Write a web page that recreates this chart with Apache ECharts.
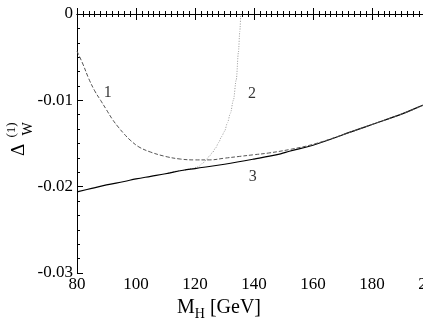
<!DOCTYPE html>
<html>
<head>
<meta charset="utf-8">
<script src="https://cdn.jsdelivr.net/npm/echarts@6/dist/echarts.min.js"></script>
<style>
html, body { margin: 0; padding: 0; background: #fff; }
#main { width: 423px; height: 327px; }
</style>
</head>
<body>
<div id="main"></div>
<script>
// curve 1 (dashed)
const mass1 = [80, 82, 84, 86, 88, 90, 92, 94, 96, 98, 101, 105, 110, 115, 120, 125, 130, 135, 140, 145, 152, 160, 170, 180, 190, 200]
const delta1 = [-0.0043, -0.0058, -0.0075, -0.0089, -0.0100, -0.0111, -0.0122, -0.0131, -0.0139, -0.0146, -0.0154, -0.0160, -0.0165, -0.0168, -0.0169, -0.0169, -0.0167, -0.0165, -0.0163, -0.0161, -0.0157, -0.0151, -0.0140, -0.0128, -0.0116, -0.0102]
// curve 2 (dotted)
const mass2 = [110, 116, 119, 121, 123, 124, 125, 126, 127, 128, 129, 130, 131, 132, 133, 134, 134.7, 135.2, 135.5]
const delta2 = [-0.0185, -0.0181, -0.0179, -0.0177, -0.0172, -0.0168, -0.0164, -0.0160, -0.0155, -0.0149, -0.0142, -0.0136, -0.0126, -0.0115, -0.0100, -0.0076, -0.0045, -0.0020, 0]
// curve 3 (solid)
const mass3 = [80, 85, 90, 96, 100, 105, 110, 116, 120, 130, 140, 149, 152, 160, 175, 180, 190, 197, 200]
const delta3 = [-0.0206, -0.0202, -0.0198, -0.0194, -0.0191, -0.0188, -0.0185, -0.0181, -0.0179, -0.0174, -0.0168, -0.0162, -0.0159, -0.0152, -0.0134, -0.0128, -0.0116, -0.0106, -0.0102]
// curve numbers
const curveNames = ['1', '2', '3']
const curveNameX = [90.4, 139.3, 139.6]
const curveNameY = [-0.0091, -0.0093, -0.0189]

const pairs = (xs, ys) => xs.map((x, i) => [x, ys[i]])
const serif = 'Liberation Serif'

const chart = echarts.init(document.getElementById('main'))

const xCommon = {
    type: 'value', min: 80, max: 200, interval: 20,
    axisLine: { show: true, lineStyle: { color: '#000', width: 1 } },
    axisTick: { show: true, inside: true, length: 6, lineStyle: { color: '#000' } },
    minorTick: { show: true, splitNumber: 10, length: 3, lineStyle: { color: '#000' } },
    splitLine: { show: false },
}
const yCommon = {
    type: 'value', min: -0.03, max: 0, interval: 0.01,
    axisLine: { show: true, lineStyle: { color: '#000', width: 1 } },
    axisTick: { show: true, inside: true, length: 6, lineStyle: { color: '#000' } },
    minorTick: { show: true, splitNumber: 6, length: 3, lineStyle: { color: '#000' } },
    splitLine: { show: false },
}

chart.setOption({
    animation: false,
    backgroundColor: '#fff',
    grid: { left: 77, top: 14, width: 354, height: 259, outerBoundsMode: 'none', containLabel: false },
    xAxis: [
        {
            ...xCommon,
            position: 'bottom',
            axisLabel: { color: '#000', fontFamily: serif, fontSize: 17, margin: 3 },
            name: 'M{sub|H} [GeV]',
            nameLocation: 'middle',
            nameGap: 20,
            nameTextStyle: {
                color: '#000', fontFamily: serif, fontSize: 20,
                padding: [0, 70, 0, 0],
                rich: { sub: { fontFamily: serif, fontSize: 14, verticalAlign: 'bottom', padding: [12, 0, 0, 0], color: '#000' } },
            },
        },
        { ...xCommon, position: 'top', axisLabel: { show: false } },
    ],
    yAxis: [
        {
            ...yCommon,
            position: 'left',
            axisLabel: {
                color: '#000', fontFamily: serif, fontSize: 17, margin: 4,
                formatter: v => v === 0 ? '0' : v.toFixed(2),
            },
        },
        { ...yCommon, position: 'right', axisLabel: { show: false } },
    ],
    graphic: [
        { type: 'text', x: 19, y: 150, rotation: Math.PI / 2,
          style: { text: 'Δ', font: '19px ' + serif, fill: '#000', align: 'center', verticalAlign: 'middle' } },
        { type: 'text', x: 28, y: 129, rotation: Math.PI / 2,
          style: { text: 'W', font: '14px ' + serif, fill: '#000', align: 'center', verticalAlign: 'middle' } },
        { type: 'text', x: 12, y: 130, rotation: Math.PI / 2,
          style: { text: '(1)', font: '13px ' + serif, fill: '#000', align: 'center', verticalAlign: 'middle' } },
    ],
    series: [
        {
            type: 'line', data: pairs(mass2, delta2), showSymbol: false, smooth: 0.3, smoothMonotone: 'x',
            lineStyle: { color: '#9a9a9a', width: 1, type: [1, 1.5] }, z: 2,
        },
        {
            type: 'line', data: pairs(mass3, delta3), showSymbol: false, smooth: 0.4,
            lineStyle: { color: '#000', width: 1.2, type: 'solid' }, z: 3,
        },
        {
            type: 'line', data: pairs(mass1, delta1), showSymbol: false, smooth: 0.4,
            lineStyle: { color: '#555', width: 1, type: [4, 2] }, z: 4,
        },
        {
            type: 'scatter', symbolSize: 0, silent: true,
            data: curveNames.map((n, i) => ({ value: [curveNameX[i], curveNameY[i]], name: n })),
            label: {
                show: true, position: 'inside', formatter: p => p.name,
                color: '#000', fontFamily: serif, fontSize: 16,
            },
        },
    ],
})
</script>
</body>
</html>
